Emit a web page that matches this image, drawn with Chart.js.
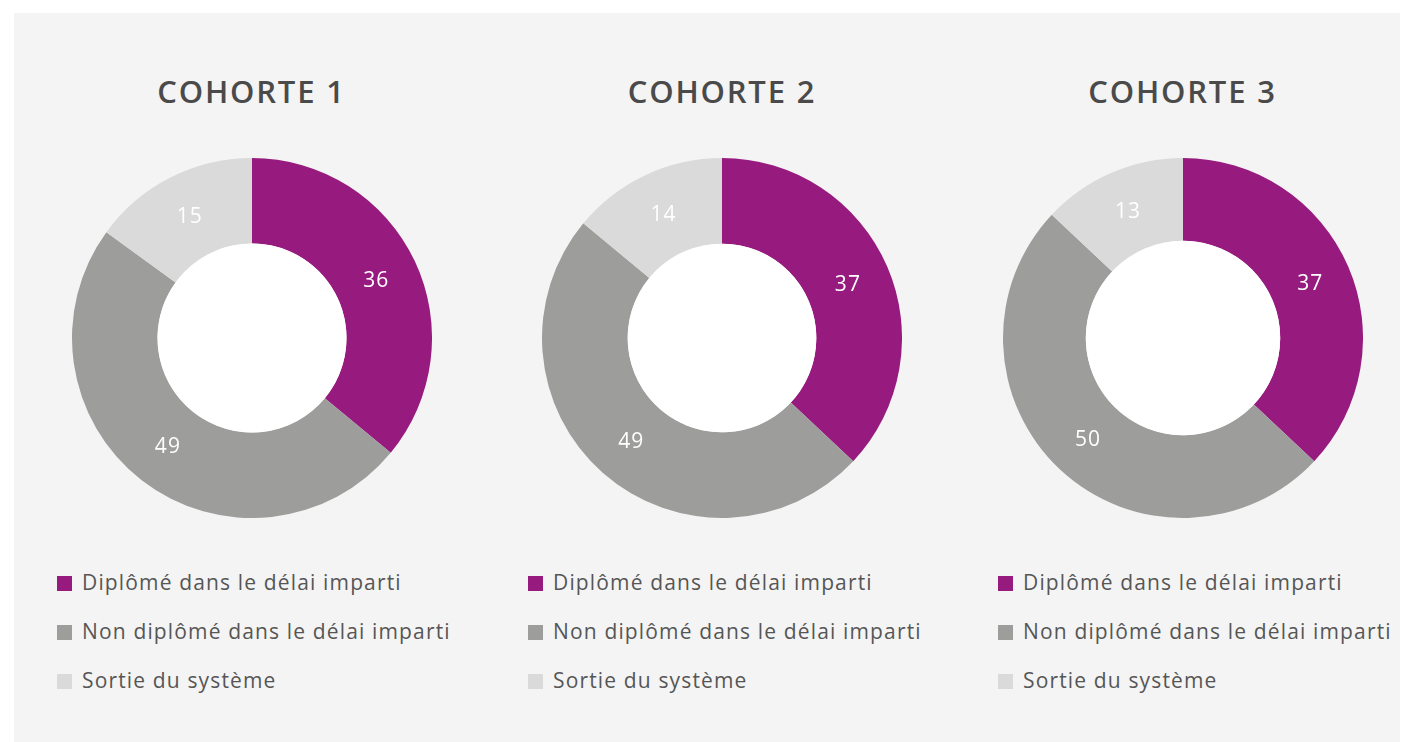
<!DOCTYPE html>
<html><head><meta charset="utf-8">
<script src="https://cdn.jsdelivr.net/npm/chart.js@4.4.1/dist/chart.umd.min.js"></script>
<style>
html,body{margin:0;padding:0;background:#fff;width:1402px;height:742px;overflow:hidden;font-family:"Open Sans",sans-serif;}
#panel{position:absolute;left:14px;top:13px;width:1386px;height:729px;background:#f4f4f4;}
.title{position:absolute;width:400px;text-align:center;font-size:31px;font-weight:600;color:#4a4a4a;line-height:40px;letter-spacing:1.8px;}
.box{position:absolute;width:360px;height:360px;}
.legend{position:absolute;}
.item{position:absolute;left:0;display:flex;align-items:center;white-space:nowrap;height:30px;}
.sw{width:15px;height:15px;margin-right:10px;flex:none;}
.lt{font-size:21px;color:#565656;letter-spacing:1.15px;}
</style>
</head><body>
<div id="panel"></div>
<div id="root"></div>
<script>
const cohortes = ['COHORTE 1', 'COHORTE 2', 'COHORTE 3'];
const categories = ['Diplômé dans le délai imparti', 'Non diplômé dans le délai imparti', 'Sortie du système'];
const cohorte1 = [36, 49, 15];
const cohorte2 = [37, 49, 14];
const cohorte3 = [37, 50, 13];
const colors = ['#971b7e', '#9d9d9c', '#dadada'];

const series = [cohorte1, cohorte2, cohorte3];
const centersX = [251.5, 722, 1182.5];
const centerY = 338;
const cutouts = ['52.5%', '52.4%', '54%'];
const legendLeft = [57, 528, 998];
const legendRows = [583, 632, 681];

const holePlugin = {
  id: 'hole',
  afterDatasetsDraw(chart) {
    const arc = chart.getDatasetMeta(0).data[0];
    if (!arc) return;
    const ctx = chart.ctx;
    ctx.save();
    ctx.fillStyle = '#ffffff';
    ctx.beginPath();
    ctx.arc(arc.x, arc.y, arc.innerRadius, 0, Math.PI * 2);
    ctx.fill();
    ctx.restore();
  }
};
const valuePlugin = {
  id: 'values',
  afterDatasetsDraw(chart) {
    const meta = chart.getDatasetMeta(0);
    const data = chart.data.datasets[0].data;
    const ctx = chart.ctx;
    ctx.save();
    ctx.fillStyle = '#ffffff';
    ctx.font = '21px "Open Sans", sans-serif';
    if ('letterSpacing' in ctx) ctx.letterSpacing = '1px';
    ctx.textAlign = 'center';
    ctx.textBaseline = 'middle';
    meta.data.forEach((el, i) => {
      const p = el.tooltipPosition();
      ctx.fillText(String(data[i]), p.x, p.y + 1);
    });
    ctx.restore();
  }
};

const root = document.getElementById('root');
series.forEach((vals, k) => {
  const cx = centersX[k];
  const t = document.createElement('div');
  t.className = 'title';
  t.textContent = cohortes[k];
  t.style.left = (cx - 200) + 'px';
  t.style.top = (91 - 20) + 'px';
  root.appendChild(t);

  const box = document.createElement('div');
  box.className = 'box';
  box.style.left = (cx - 180) + 'px';
  box.style.top = (centerY - 180) + 'px';
  const cv = document.createElement('canvas');
  box.appendChild(cv);
  root.appendChild(box);

  const lg = document.createElement('div');
  lg.className = 'legend';
  lg.style.left = legendLeft[k] + 'px';
  lg.style.top = '0px';
  categories.forEach((c, i) => {
    const it = document.createElement('div');
    it.className = 'item';
    it.style.top = (legendRows[i] - 16) + 'px';
    const sw = document.createElement('span');
    sw.className = 'sw';
    sw.style.background = colors[i];
    sw.style.marginTop = '2px';
    const tx = document.createElement('span');
    tx.className = 'lt';
    tx.textContent = c;
    it.appendChild(sw); it.appendChild(tx);
    lg.appendChild(it);
  });
  root.appendChild(lg);

  new Chart(cv, {
    type: 'doughnut',
    data: {
      labels: categories,
      datasets: [{ data: vals, backgroundColor: colors, borderWidth: 0, hoverOffset: 0 }]
    },
    options: {
      responsive: true,
      maintainAspectRatio: false,
      animation: false,
      cutout: cutouts[k],
      layout: { padding: 0 },
      plugins: { legend: { display: false }, tooltip: { enabled: false }, title: { display: false } },
      events: []
    },
    plugins: [holePlugin, valuePlugin]
  });
});
</script>
</body></html>
